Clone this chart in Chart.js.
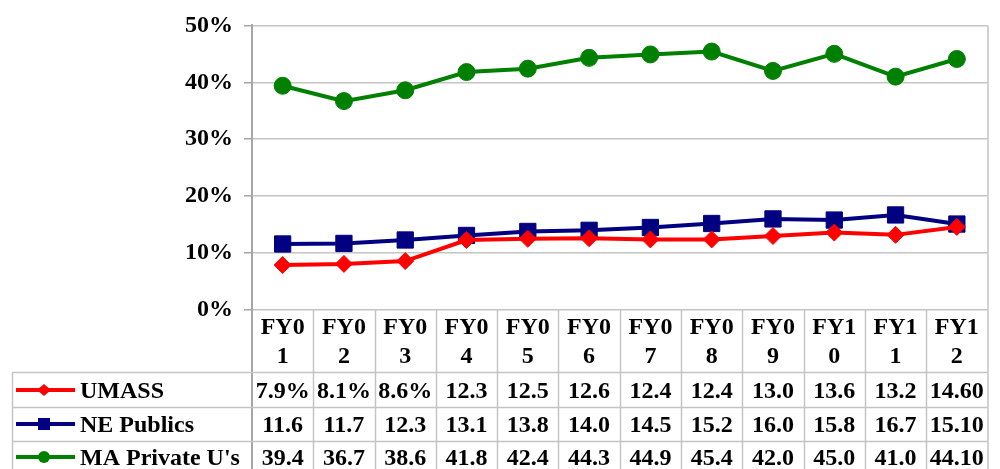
<!DOCTYPE html>
<html><head><meta charset="utf-8">
<script src="https://cdn.jsdelivr.net/npm/chart.js@4.4.1/dist/chart.umd.min.js"></script>
<style>html,body{margin:0;padding:0;background:#fff}#wrap{width:1000px;height:469px}</style>
</head><body><div id="wrap"><canvas id="c" width="1000" height="469"></canvas></div>
<script>
const catTop = ["FY0","FY0","FY0","FY0","FY0","FY0","FY0","FY0","FY0","FY1","FY1","FY1"];
const catBottom = ["1","2","3","4","5","6","7","8","9","0","1","2"];
const seriesNames = ["UMASS","NE Publics","MA Private U's"];
const umass = [7.9,8.1,8.6,12.3,12.5,12.6,12.4,12.4,13.0,13.6,13.2,14.6];
const nePublics = [11.6,11.7,12.3,13.1,13.8,14.0,14.5,15.2,16.0,15.8,16.7,15.1];
const maPrivate = [39.4,36.7,38.6,41.8,42.4,44.3,44.9,45.4,42.0,45.0,41.0,44.1];
const umassText = ["7.9%","8.1%","8.6%","12.3","12.5","12.6","12.4","12.4","13.0","13.6","13.2","14.60"];
const neText = ["11.6","11.7","12.3","13.1","13.8","14.0","14.5","15.2","16.0","15.8","16.7","15.10"];
const maText = ["39.4","36.7","38.6","41.8","42.4","44.3","44.9","45.4","42.0","45.0","41.0","44.10"];
const yTicks = [0,10,20,30,40,50];

const FONT = "'Liberation Serif','Times New Roman',serif";
const GRID = '#c4c4c4';
const AXIS = '#a6a6a6';

const tablePlugin = {
  id: 'table',
  afterDraw(chart) {
    const ctx = chart.ctx, ca = chart.chartArea, xs = chart.scales.x;
    const n = catTop.length;
    const cw = (ca.right - ca.left) / n;
    const bottom = chart.height;
    const rowY = [ca.bottom, 372, 407, 441, bottom];
    const tableLeft = 12;
    ctx.save();
    ctx.lineWidth = 1.5;
    ctx.strokeStyle = GRID;
    for (let i = 1; i < n; i++) {
      const x = Math.round(ca.left + i * cw) + 0.5;
      ctx.beginPath(); ctx.moveTo(x, ca.bottom); ctx.lineTo(x, bottom); ctx.stroke();
    }
    ctx.beginPath(); ctx.moveTo(ca.right + 0.5, ca.top); ctx.lineTo(ca.right + 0.5, bottom); ctx.stroke();
    ctx.strokeStyle = AXIS; ctx.lineWidth = 2;
    ctx.beginPath(); ctx.moveTo(ca.left, ca.bottom); ctx.lineTo(ca.left, bottom); ctx.stroke();
    ctx.strokeStyle = GRID; ctx.lineWidth = 1.5;
    ctx.beginPath(); ctx.moveTo(tableLeft + 0.5, rowY[1]); ctx.lineTo(tableLeft + 0.5, bottom); ctx.stroke();
    for (let r = 1; r <= 3; r++) {
      ctx.beginPath(); ctx.moveTo(tableLeft, rowY[r] + 0.5); ctx.lineTo(ca.right, rowY[r] + 0.5); ctx.stroke();
    }
    ctx.fillStyle = '#000';
    ctx.font = "bold 24px " + FONT;
    ctx.textAlign = 'center'; ctx.textBaseline = 'middle';
    for (let i = 0; i < n; i++) {
      const x = xs.getPixelForValue(i);
      ctx.fillText(catTop[i], x, 328);
      ctx.fillText(catBottom[i], x, 357);
    }
    const texts = [umassText, neText, maText];
    const textY = [392, 426, 459];
    for (let r = 0; r < 3; r++) {
      for (let i = 0; i < n; i++) {
        ctx.fillText(texts[r][i], xs.getPixelForValue(i), textY[r]);
      }
    }
    const ds = chart.data.datasets;
    for (let r = 0; r < 3; r++) {
      const y = textY[r] - 2;
      ctx.strokeStyle = ds[r].borderColor; ctx.lineWidth = 4;
      ctx.beginPath(); ctx.moveTo(16, y); ctx.lineTo(75, y); ctx.stroke();
      ctx.fillStyle = ds[r].borderColor;
      const cx = 44;
      if (r === 0) {
        ctx.beginPath(); ctx.moveTo(cx, y - 6); ctx.lineTo(cx + 7, y); ctx.lineTo(cx, y + 6); ctx.lineTo(cx - 7, y); ctx.closePath(); ctx.fill();
      } else if (r === 1) {
        ctx.fillRect(cx - 6, y - 6, 12, 12);
      } else {
        ctx.beginPath(); ctx.arc(cx, y, 6, 0, Math.PI * 2); ctx.fill();
      }
      ctx.fillStyle = '#000';
      ctx.textAlign = 'left';
      ctx.fillText(seriesNames[r], 80, textY[r]);
      ctx.textAlign = 'center';
    }
    ctx.restore();
  }
};

new Chart(document.getElementById('c'), {
  type: 'line',
  data: {
    labels: catTop.map((t, i) => t + catBottom[i]),
    datasets: [
      { label: seriesNames[0], data: umass, borderColor: '#ff0000', backgroundColor: '#ff0000', borderWidth: 4, pointStyle: 'rectRot', pointRadius: 8.5, pointHoverRadius: 8.5, pointBorderWidth: 1, tension: 0 },
      { label: seriesNames[1], data: nePublics, borderColor: '#000080', backgroundColor: '#000080', borderWidth: 4, pointStyle: 'rect', pointRadius: 11.5, pointHoverRadius: 11.5, pointBorderWidth: 1, tension: 0 },
      { label: seriesNames[2], data: maPrivate, borderColor: '#008000', backgroundColor: '#008000', borderWidth: 4, pointStyle: 'circle', pointRadius: 8.5, pointHoverRadius: 8.5, pointBorderWidth: 1, tension: 0 }
    ]
  },
  options: {
    responsive: false,
    animation: false,
    events: [],
    layout: { padding: { top: 19, bottom: 159, left: 0, right: 7 } },
    plugins: { legend: { display: false }, tooltip: { enabled: false } },
    scales: {
      x: { type: 'category', offset: true, display: false },
      y: {
        min: 0, max: 50,
        afterFit(s) { s.width = 252; },
        afterBuildTicks(s) { s.ticks = yTicks.map(v => ({ value: v })); },
        ticks: { padding: 11, color: '#000', font: { family: FONT, size: 24, weight: 'bold' }, callback: v => v + '%' },
        grid: { color: GRID, lineWidth: 1.5, tickLength: 8, tickColor: AXIS },
        border: { color: AXIS, width: 2 }
      }
    },
    clip: false
  },
  plugins: [tablePlugin]
});
</script></body></html>
